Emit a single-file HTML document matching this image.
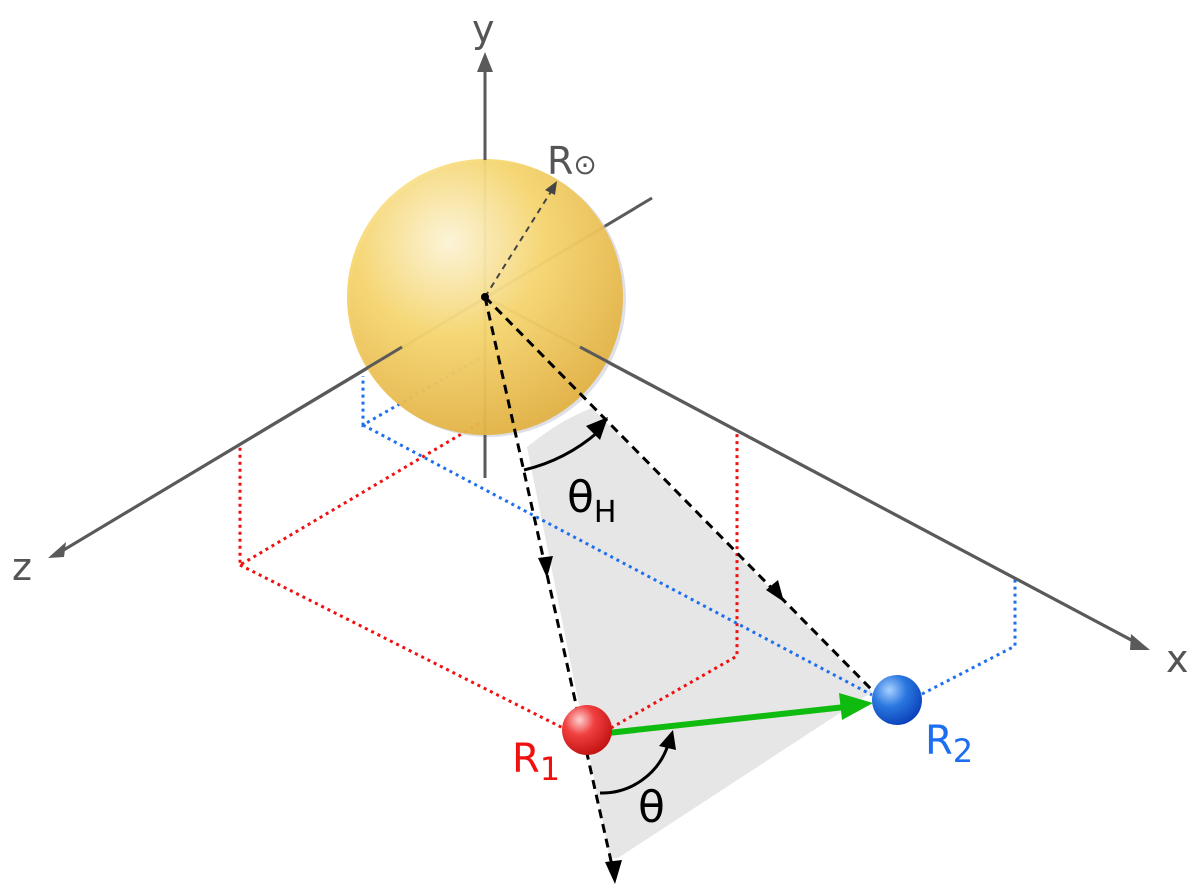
<!DOCTYPE html>
<html><head><meta charset="utf-8"><style>html,body{margin:0;padding:0;background:#fff}svg{display:block}</style></head><body>
<svg width="1200" height="890" viewBox="0 0 1200 890" xmlns="http://www.w3.org/2000/svg" font-family="'DejaVu Sans','Liberation Sans',sans-serif">
<defs>
<radialGradient id="sun" cx="0.37" cy="0.3" r="0.75">
<stop offset="0" stop-color="#fff6d6"/><stop offset="0.45" stop-color="#f8d66a"/><stop offset="1" stop-color="#e2ad38"/></radialGradient>
<radialGradient id="red" cx="0.35" cy="0.3" r="0.75"><stop offset="0" stop-color="#ffd0d0"/><stop offset="0.4" stop-color="#f04040"/><stop offset="1" stop-color="#c01010"/></radialGradient>
<radialGradient id="blue" cx="0.35" cy="0.3" r="0.75"><stop offset="0" stop-color="#a8d0ff"/><stop offset="0.45" stop-color="#2a78e0"/><stop offset="1" stop-color="#0a3fb8"/></radialGradient>
</defs>
<path d="M527,447 Q560,420 592,408 L872,692 L618,858 L610,858 Z" fill="#e6e6e6"/>
<g stroke="#5a5a5a" stroke-width="3" fill="none">
<line x1="485" y1="478" x2="485" y2="70"/>
<line x1="652" y1="198" x2="62" y2="551"/>
<line x1="485" y1="297" x2="1135" y2="642"/>
</g>
<g fill="none" stroke-width="3" stroke-dasharray="3,4">
<polyline points="485,420 240,565 240,446" stroke="#f01010"/>
<polyline points="240,565 563,728" stroke="#f01010"/>
<polyline points="611,728 737,656 737,432" stroke="#f01010"/>
<polyline points="485,355 363,425 363,376" stroke="#1e6ff0"/>
<polyline points="363,425 872,695" stroke="#1e6ff0"/>
<polyline points="922,694 1015,646 1015,577" stroke="#1e6ff0"/>
</g>
<circle cx="488" cy="299" r="138" fill="#c8ccd8" opacity="0.6"/>
<circle cx="485" cy="297" r="138" fill="url(#sun)" opacity="0.9"/>
<g stroke="#5a5a5a" stroke-width="3" fill="none">
<line x1="485" y1="435" x2="485" y2="478"/>
<line x1="485" y1="160" x2="485" y2="70"/>
<line x1="402" y1="347" x2="62" y2="551"/>
<line x1="580" y1="347" x2="1135" y2="642"/>
</g>
<polygon points="485,52 477,72 493,72" fill="#5a5a5a"/>
<polygon points="48,558 66,542 64,557" fill="#5a5a5a"/>
<polygon points="1150,650 1131,634 1130,650" fill="#5a5a5a"/>
<line x1="485" y1="297" x2="552" y2="190" stroke="#444" stroke-width="2" stroke-dasharray="6,5"/>
<polygon points="557,181 545,190 555,195" fill="#444"/>
<g stroke="#000" stroke-width="3" fill="none" stroke-dasharray="9,6">
<line x1="485" y1="297" x2="613" y2="870"/>
<line x1="485" y1="297" x2="872" y2="690"/>
</g>
<circle cx="485" cy="297" r="4" fill="#000"/>
<polygon points="615,884 605,862 622,860" fill="#000"/>
<polygon points="547,578 538,558 553,556" fill="#000"/>
<polygon points="784,602 766,590 778,580" fill="#000"/>
<!-- theta H arc -->
<path d="M524,470 A175,175 0 0 0 598,432" stroke="#000" stroke-width="3" fill="none"/>
<polygon points="608,417 586,426 600,440" fill="#000"/>
<!-- theta arc -->
<path d="M600,793 A70,70 0 0 0 668,745" stroke="#000" stroke-width="3" fill="none"/>
<polygon points="673,730 659,746 676,750" fill="#000"/>
<line x1="608" y1="733" x2="845" y2="707" stroke="#10bb10" stroke-width="6"/>
<polygon points="873,703 839,693 842,720" fill="#10bb10"/>
<circle cx="587" cy="730" r="25" fill="url(#red)"/>
<circle cx="897" cy="700" r="25" fill="url(#blue)"/>
<g font-size="38" fill="#555">
<text x="472" y="42">y</text>
<text x="12" y="580">z</text>
<text x="1166" y="672">x</text>
<text x="547" y="174">R<tspan font-size="28">⊙</tspan></text>
</g>
<text x="567" y="512" font-size="44" fill="#000">θ<tspan font-size="30" dy="10">H</tspan></text>
<text x="638" y="822" font-size="44" fill="#000">θ</text>
<text x="512" y="772" font-size="40" fill="#f01010">R<tspan font-size="32" dy="8">1</tspan></text>
<text x="925" y="754" font-size="40" fill="#1e6ff0">R<tspan font-size="32" dy="8">2</tspan></text>
</svg>
</body></html>
